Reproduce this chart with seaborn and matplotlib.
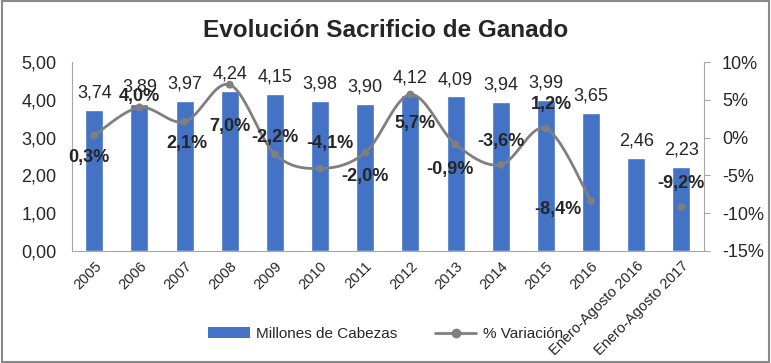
import numpy as np
import pandas as pd
import seaborn as sns
from matplotlib import pyplot as plt
from matplotlib.lines import Line2D
from matplotlib.patches import Patch, Rectangle
from matplotlib.ticker import FuncFormatter

categories = ["2005", "2006", "2007", "2008", "2009", "2010", "2011", "2012",
              "2013", "2014", "2015", "2016", "Enero-Agosto 2016", "Enero-Agosto 2017"]
cabezas = [3.74, 3.89, 3.97, 4.24, 4.15, 3.98, 3.90, 4.12, 4.09, 3.94, 3.99, 3.65, 2.46, 2.23]
variacion = [0.3, 4.0, 2.1, 7.0, -2.2, -4.1, -2.0, 5.7, -0.9, -3.6, 1.2, -8.4, np.nan, -9.2]

# offsets (points) for the % labels
pct_offsets = [(-4, -16), (0, 8), (2, -16), (0, -30), (0, 12), (7, 18), (0, -17), (3, -21),
               (-4, -18), (0, 17), (4, 17), (-24, -6), (0, 0), (0, 17)]

BLUE = "#4472C4"
GREY = "#7F7F7F"
FONT = ["Liberation Sans Narrow", "Liberation Sans", "DejaVu Sans"]


def fmt_num(v, dec=2):
    return f"{v:.{dec}f}".replace(".", ",")


def catmull_rom(xs, ys, n=24):
    # smoothed line like the spreadsheet's "smoothed line" option (drawing only)
    xs = np.asarray(xs, float)
    ys = np.asarray(ys, float)
    px = np.concatenate([[xs[0]], xs, [xs[-1]]])
    py = np.concatenate([[ys[0]], ys, [ys[-1]]])
    out_x, out_y = [], []
    for i in range(1, len(px) - 2):
        t = np.linspace(0, 1, n)
        for p, out in ((px, out_x), (py, out_y)):
            p0, p1, p2, p3 = p[i - 1], p[i], p[i + 1], p[i + 2]
            out.extend(0.5 * (2 * p1 + (-p0 + p2) * t + (2 * p0 - 5 * p1 + 4 * p2 - p3) * t ** 2
                              + (-p0 + 3 * p1 - 3 * p2 + p3) * t ** 3))
    return out_x, out_y


def plot_chart(file_name):
    sns.set_style("white")
    plt.rcParams["font.family"] = FONT

    df = pd.DataFrame({"cat": categories, "val": cabezas, "pct": variacion})
    df["pos"] = range(len(df))

    fig = plt.figure(figsize=(7.71, 3.63), dpi=100)
    ax = fig.add_axes([0.093, 0.309, 0.82, 0.52])
    sns.barplot(data=df, x="cat", y="val", color=BLUE, width=0.4, saturation=1, ax=ax)
    ax.set_ylim(0, 5)
    ax.set_xlim(-0.5, len(df) - 0.5)
    ax.set_yticks(np.arange(0, 5.01, 1))
    ax.yaxis.set_major_formatter(FuncFormatter(lambda v, p: fmt_num(v)))
    ax.tick_params(axis="y", labelsize=13, length=0, pad=11)
    ax.tick_params(axis="x", labelsize=10.5, length=0, pad=6)
    plt.setp(ax.get_xticklabels(), rotation=45, ha="right", rotation_mode="anchor")
    ax.set_xlabel("")
    ax.set_ylabel("")
    for s in ["top", "right"]:
        ax.spines[s].set_visible(False)
    for s in ["left", "bottom"]:
        ax.spines[s].set_color("#A6A6A6")

    for i, v in enumerate(cabezas):
        ax.annotate(fmt_num(v), (i, v), xytext=(0, 6), textcoords="offset points",
                    ha="center", va="bottom", fontsize=13)

    ax2 = ax.twinx()
    valid = df.dropna(subset=["pct"])
    main = valid[valid["pos"] <= 11]
    sx, sy = catmull_rom(main["pos"], main["pct"])
    ax2.plot(sx, sy, color=GREY, lw=2)
    sns.scatterplot(data=valid, x="pos", y="pct", color=GREY, s=32, edgecolor="none", ax=ax2, zorder=3)
    ax2.set_ylim(-15, 10)
    ax2.set_yticks(np.arange(-15, 10.1, 5))
    ax2.yaxis.set_major_formatter(FuncFormatter(lambda v, p: f"{v:.0f}%"))
    ax2.tick_params(axis="y", labelsize=13, length=4, color="#A6A6A6", pad=9)
    ax2.set_ylabel("")
    ax2.set_xlabel("")
    for s in ["top", "left", "bottom"]:
        ax2.spines[s].set_visible(False)
    ax2.spines["right"].set_color("#A6A6A6")

    for i, row in df.iterrows():
        if np.isnan(row["pct"]):
            continue
        ax2.annotate(fmt_num(row["pct"], 1) + "%", (row["pos"], row["pct"]), xytext=pct_offsets[i],
                     textcoords="offset points", ha="center", va="center",
                     fontsize=13, fontweight="bold")

    fig.text(0.5, 0.915, "Evolución Sacrificio de Ganado", ha="center", va="center",
             fontsize=17.5, fontweight="bold")

    handles = [Patch(facecolor=BLUE, edgecolor="none"),
               Line2D([], [], color=GREY, lw=2, marker="o", markersize=6)]
    fig.legend(handles, ["Millones de Cabezas", "% Variación"], loc="center",
               bbox_to_anchor=(0.5, 0.08), ncol=2, frameon=False, fontsize=11,
               handlelength=2.7, columnspacing=2.5, handletextpad=0.4)

    fig.patches.append(Rectangle((0.002, 0.003), 0.996, 0.994, transform=fig.transFigure,
                                 fill=False, edgecolor="#898989", lw=1.5))
    plt.savefig(file_name, dpi=100)


def main():
    plot_chart("out.png")


if __name__ == "__main__":
    main()
